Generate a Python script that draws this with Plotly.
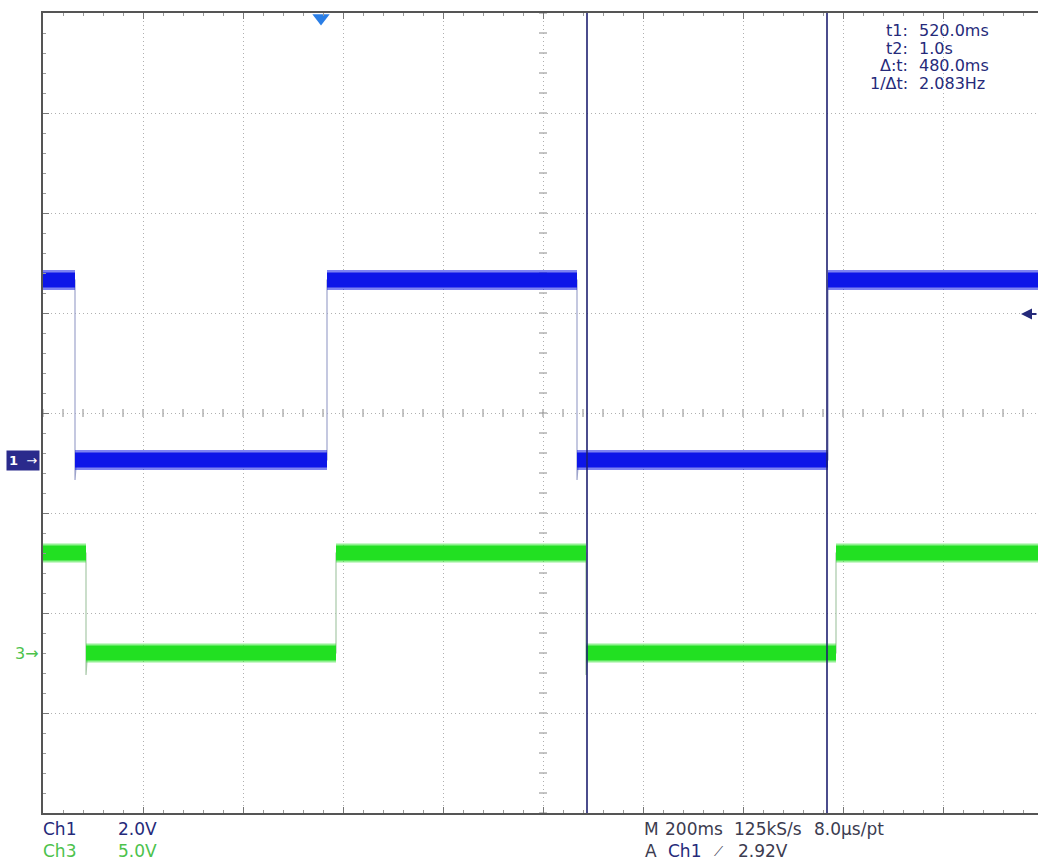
import plotly.graph_objects as go

ch1_edges_s = [-0.504, 0.000, 0.500, 1.002]      # Ch1 transition times
ch1_levels_v = [3.6, 0.0, 3.6, 0.0, 3.6]          # Ch1 level between edges
ch1_undershoot_v = -0.4
ch3_edges_s = [-0.482, 0.018, 0.518, 1.018]      # Ch3 transition times
ch3_levels_v = [5.0, 0.0, 5.0, 0.0, 5.0]          # Ch3 level between edges
ch3_undershoot_v = -1.1
cursor_t_s = [0.52, 1.0]                          # t1, t2 cursors
trigger_pos_s = -0.012
trigger_level_v = 2.92
readout_labels = ["t1:", "t2:", "Δ:t:", "1/Δt:"]
readout_values = ["520.0ms", "1.0s", "480.0ms", "2.083Hz"]

# ---------------- screen geometry ----------------
W, H = 1038, 866
L, T = 43, 13
PW, PH = 995, 800
B = H - T - PH
X_RANGE = [-0.568, 1.422]      # 200 ms/div
Y1_RANGE = [-7.06, 8.94]       # Ch1 2.0 V/div
Y2_RANGE = [-8.0, 32.0]        # Ch3 5.0 V/div

# positions below are given in screen pixels
def px(x):
    return (x - L) / PW

def py(y):
    return (T + PH - y) / PH

FONT = "DejaVu Sans, Verdana, sans-serif"
NAVY = "#252a7a"
GRAYTXT = "#3c3c50"
BLUE = "#0d16e8"
GREEN = "#22e022"
GREEN_TXT = "#4cc24c"


def step_line(edges, levels, under):
    xs, ys = [X_RANGE[0]], [levels[0]]
    for i, e in enumerate(edges):
        prev, nxt = levels[i], levels[i + 1]
        if nxt < prev:
            xs += [e, e, e + 0.003]
            ys += [prev, under, nxt]
        else:
            xs += [e, e]
            ys += [prev, nxt]
    xs.append(X_RANGE[1])
    ys.append(levels[-1])
    return xs, ys


def band(edges, levels):
    bounds = [X_RANGE[0]] + list(edges) + [X_RANGE[1]]
    xs, ys = [], []
    for i, lv in enumerate(levels):
        xs += [bounds[i], bounds[i + 1], None]
        ys += [lv, lv, None]
    return xs, ys


fig = go.Figure()

# Ch1
sx, sy = step_line(ch1_edges_s, ch1_levels_v, ch1_undershoot_v)
fig.add_trace(go.Scatter(x=sx, y=sy, mode="lines", line=dict(color="#9ea4cc", width=1.2),
                         hoverinfo="skip", showlegend=False, yaxis="y"))
bx, by = band(ch1_edges_s, ch1_levels_v)
fig.add_trace(go.Scatter(x=bx, y=by, mode="lines", line=dict(color="rgba(20,30,230,0.55)", width=20),
                         hoverinfo="skip", showlegend=False, yaxis="y"))
fig.add_trace(go.Scatter(x=bx, y=by, mode="lines", line=dict(color=BLUE, width=15),
                         name="Ch1", showlegend=False, yaxis="y"))

# Ch3
sx, sy = step_line(ch3_edges_s, ch3_levels_v, ch3_undershoot_v)
fig.add_trace(go.Scatter(x=sx, y=sy, mode="lines", line=dict(color="#a8c8a8", width=1.2),
                         hoverinfo="skip", showlegend=False, yaxis="y2"))
bx, by = band(ch3_edges_s, ch3_levels_v)
fig.add_trace(go.Scatter(x=bx, y=by, mode="lines", line=dict(color="rgba(40,225,40,0.5)", width=19),
                         hoverinfo="skip", showlegend=False, yaxis="y2"))
fig.add_trace(go.Scatter(x=bx, y=by, mode="lines", line=dict(color=GREEN, width=15),
                         name="Ch3", showlegend=False, yaxis="y2"))

# trigger position marker
fig.add_trace(go.Scatter(x=[trigger_pos_s], y=[8.84], mode="markers",
                         marker=dict(symbol="triangle-down", size=15, color="#2a7ee6"),
                         cliponaxis=False, hoverinfo="skip", showlegend=False, yaxis="y"))

shapes = []
# cursors
for t in cursor_t_s:
    shapes.append(dict(type="line", xref="x", yref="paper", x0=t, x1=t, y0=0, y1=1,
                       line=dict(color="#1e2070", width=1.6), layer="above"))

# center cross tick marks
cx, cy = 543, 413
k = L
while k <= W:
    shapes.append(dict(type="line", xref="paper", yref="paper", x0=px(k), x1=px(k),
                       y0=py(cy - 4), y1=py(cy + 4), line=dict(color="#8a8a8a", width=1), layer="below"))
    k += 20
k = T
while k <= T + PH:
    shapes.append(dict(type="line", xref="paper", yref="paper", x0=px(cx - 4), x1=px(cx + 4),
                       y0=py(k), y1=py(k), line=dict(color="#8a8a8a", width=1), layer="below"))
    k += 20

annotations = []
# readout top right
for i, (lab, val) in enumerate(zip(readout_labels, readout_values)):
    yy = 31 + i * 17.4
    annotations.append(dict(xref="paper", yref="paper", x=px(910), y=py(yy), text=lab,
                            xanchor="right", yanchor="middle", showarrow=False,
                            font=dict(family=FONT, size=16, color=NAVY)))
    annotations.append(dict(xref="paper", yref="paper", x=px(917), y=py(yy), text=val,
                            xanchor="left", yanchor="middle", showarrow=False,
                            font=dict(family=FONT, size=16, color=NAVY)))

# bottom status text
def txt(x, y, s, color, size=17):
    annotations.append(dict(xref="paper", yref="paper", x=px(x), y=py(y), text=s,
                            xanchor="left", yanchor="middle", showarrow=False,
                            font=dict(family=FONT, size=size, color=color)))

txt(41, 829, "Ch1", NAVY)
txt(116, 829, "2.0V", NAVY)
txt(41, 851, "Ch3", GREEN_TXT)
txt(116, 851, "5.0V", GREEN_TXT)
txt(642, 829, "M", GRAYTXT)
txt(663, 829, "200ms", GRAYTXT)
txt(732, 829, "125kS/s", GRAYTXT)
txt(812, 829, "8.0µs/pt", GRAYTXT)
txt(643, 851, "A", GRAYTXT)
txt(666, 851, "Ch1", NAVY)
txt(712, 851, "⟋", GRAYTXT, 13)
txt(736, 851, "2.92V", GRAYTXT)

# channel ground markers on left
annotations.append(dict(xref="paper", yref="y", x=px(40), y=0.0, text="<b>1</b>  →",
                        xanchor="right", yanchor="middle", showarrow=False,
                        bgcolor="#2a2a8c", borderpad=2,
                        font=dict(family=FONT, size=13, color="white")))
annotations.append(dict(xref="paper", yref="y2", x=px(41), y=0.0, text="3→",
                        xanchor="right", yanchor="middle", showarrow=False,
                        font=dict(family=FONT, size=16, color=GREEN_TXT)))
# trigger level arrow
annotations.append(dict(xref="paper", yref="y", x=px(1021), y=trigger_level_v, text="",
                        showarrow=True, ax=22, ay=0, arrowhead=2, arrowsize=1.1,
                        arrowwidth=2, arrowcolor=NAVY))

GRID = "#b0b0b0"
fig.update_layout(
    width=W, height=H,
    margin=dict(l=L, r=0, t=T, b=B, autoexpand=False),
    paper_bgcolor="white", plot_bgcolor="white",
    showlegend=False,
    xaxis=dict(range=X_RANGE, tick0=X_RANGE[0], dtick=0.2, showgrid=True,
               gridcolor=GRID, griddash="1px,3px", gridwidth=1,
               showticklabels=False, zeroline=False,
               showline=True, linecolor="#555555", linewidth=2, mirror="ticks",
               ticks="inside", ticklen=6, tickcolor="#777777",
               minor=dict(dtick=0.04, tick0=X_RANGE[0], ticks="inside", ticklen=3,
                          tickcolor="#999999", showgrid=False)),
    yaxis=dict(range=Y1_RANGE, tick0=Y1_RANGE[0], dtick=2, showgrid=True,
               gridcolor=GRID, griddash="1px,3px", gridwidth=1,
               showticklabels=False, zeroline=False,
               showline=True, linecolor="#555555", linewidth=2,
               ticks="inside", ticklen=6, tickcolor="#777777",
               minor=dict(dtick=0.4, tick0=Y1_RANGE[0], ticks="inside", ticklen=3,
                          tickcolor="#999999", showgrid=False)),
    yaxis2=dict(range=Y2_RANGE, overlaying="y", showgrid=False, showticklabels=False,
                zeroline=False, showline=False, ticks=""),
    shapes=shapes,
    annotations=annotations,
)

fig.write_html("out.html", config={"displayModeBar": False},
               post_script="document.body.style.margin='0px';document.body.style.overflow='hidden';")
